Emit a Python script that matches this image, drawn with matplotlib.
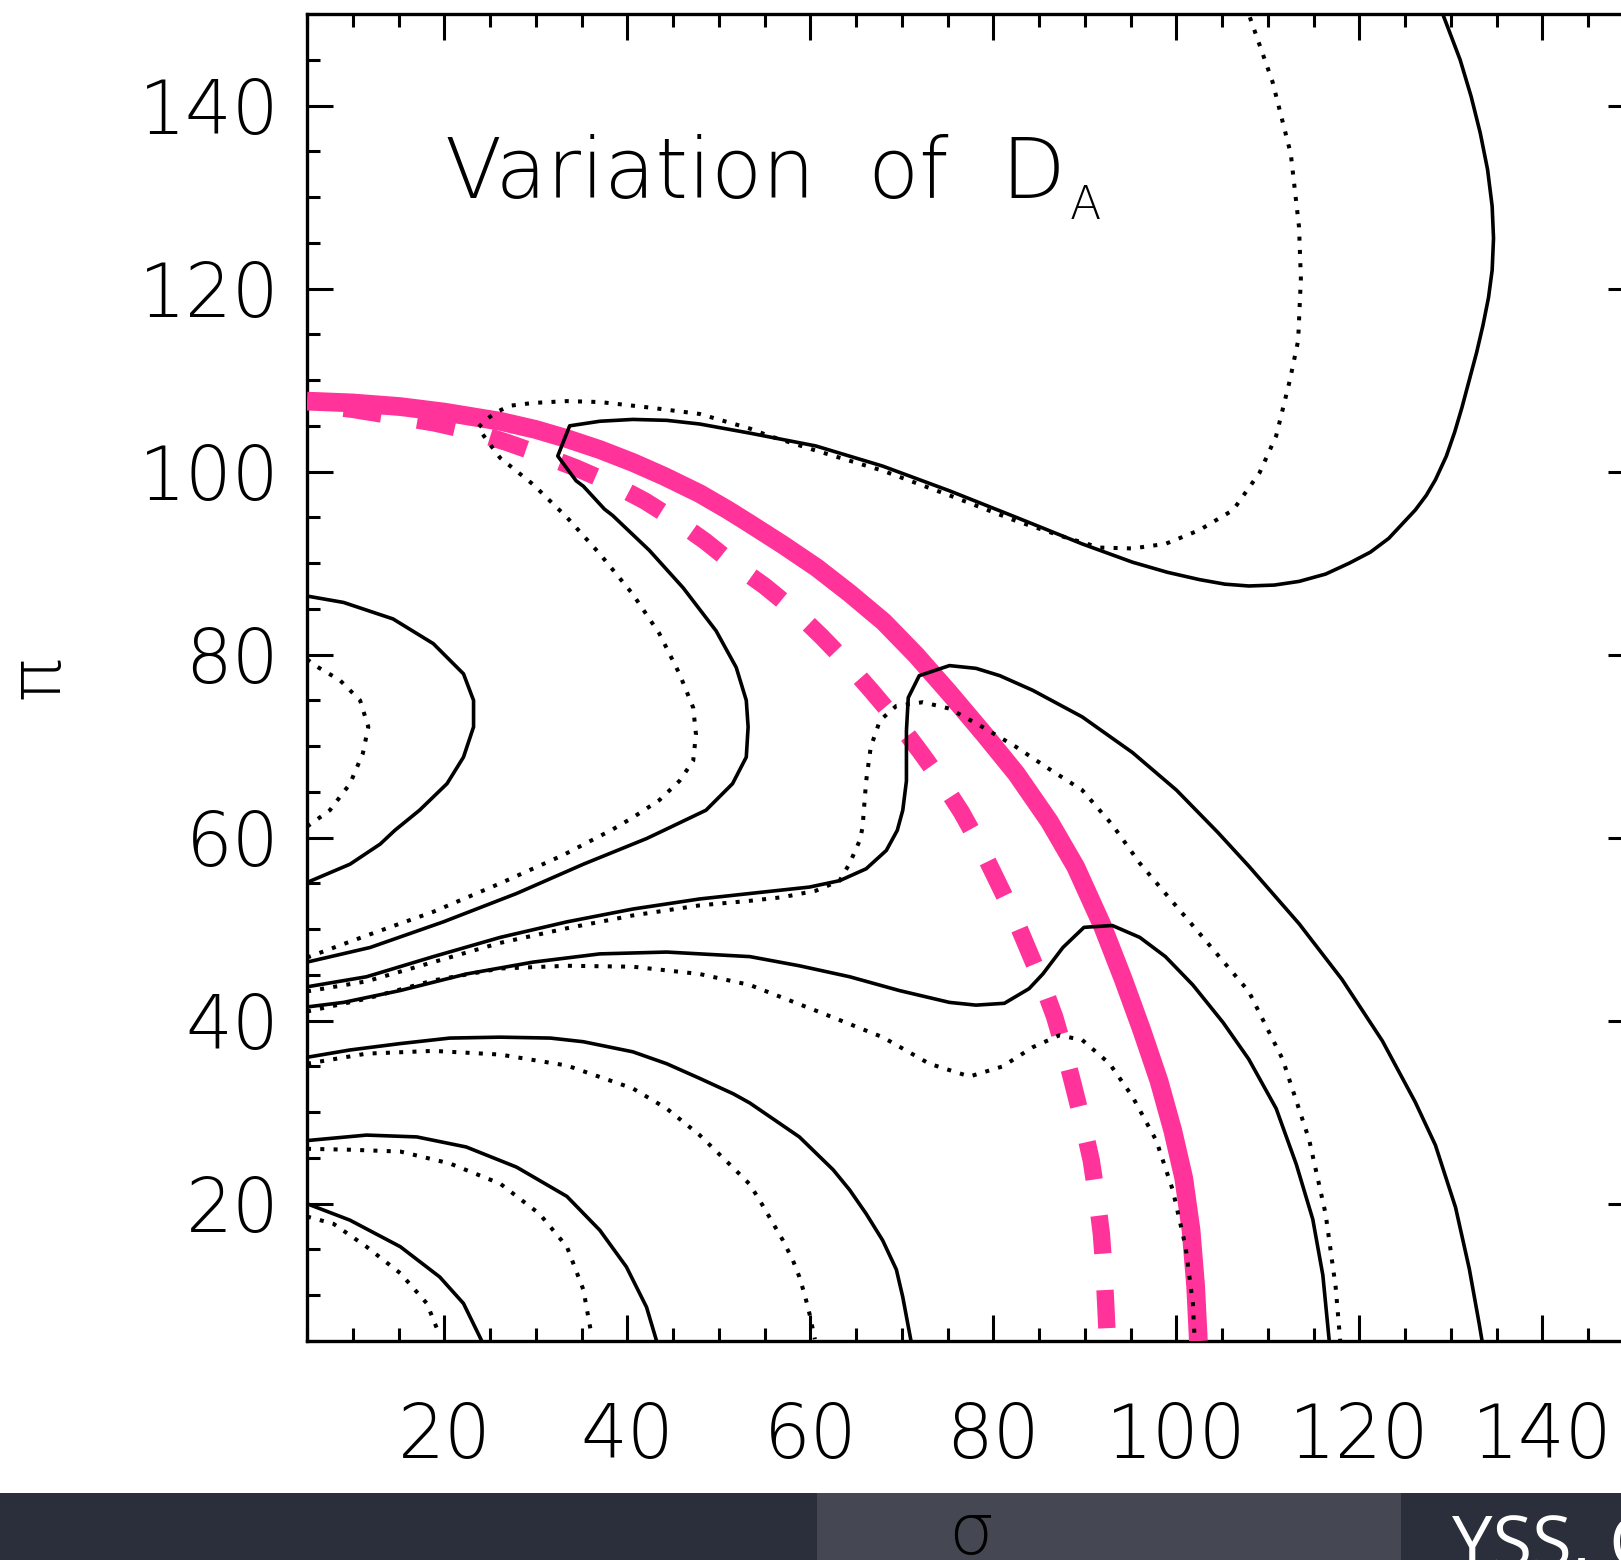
import matplotlib
matplotlib.use("Agg")
import matplotlib.pyplot as plt
from matplotlib import font_manager as fm
from matplotlib.ticker import MultipleLocator
from matplotlib.patches import Rectangle

# ---------------------------------------------------------------------------
# Contour traces of D_A in the (sigma, pi) plane
# ---------------------------------------------------------------------------

# thick pink reference ring (solid) and the shifted ring (dashed)
ring_solid_sigma = [5.0, 10.0, 15.2, 20.0, 26.1, 30.0, 33.4, 37.0, 40.6, 44.0,
                    47.9, 51.0, 53.4, 57.0, 60.7, 64.3, 68.0, 71.6, 75.2, 79.0,
                    82.5, 86.1, 89.0, 91.9, 94.2, 96.2, 98.1, 99.6, 100.8, 101.6,
                    102.1, 102.4]
ring_solid_pi = [107.7, 107.5, 107.1, 106.5, 105.5, 104.6, 103.6, 102.4, 101.0, 99.5,
                 97.6, 95.8, 94.3, 92.0, 89.5, 86.7, 83.6, 79.9, 75.8, 71.3,
                 67.0, 61.8, 56.8, 50.4, 44.5, 39.0, 33.4, 28.0, 22.8, 17.1,
                 11.0, 5.0]

ring_dash_sigma = [5.0, 10.0, 14.9, 19.0, 23.0, 26.8, 30.5, 34.4, 38.3, 41.9,
                   45.4, 48.5, 51.5, 55.0, 58.3, 61.2, 64.0, 66.8, 69.5, 72.0,
                   74.3, 76.5, 78.5, 80.3, 82.1, 83.7, 85.3, 86.7, 87.8, 88.8,
                   89.8, 90.7, 91.3, 91.8, 92.1, 92.3, 92.4]
ring_dash_pi = [107.4, 106.8, 106.0, 105.3, 104.4, 103.2, 101.9, 100.4, 98.7, 96.8,
                94.6, 92.4, 90.0, 87.5, 84.8, 82.0, 79.1, 75.9, 72.7, 69.4,
                66.2, 62.8, 59.2, 55.5, 51.8, 48.0, 44.2, 40.4, 36.6, 32.7,
                28.7, 24.7, 20.7, 16.7, 12.6, 8.5, 6.4]

# solid contours
s1_sigma = [5.0, 11.9, 19.9, 27.9, 35.2, 42.1, 44.0, 48.6, 51.5, 53.0, 53.2, 53.0,
            51.9, 49.7, 46.1, 42.4, 38.4, 37.5, 35.2, 34.4, 32.4, 33.7, 37.0, 40.6,
            44.3, 47.9, 53.4, 60.6, 67.9, 75.2, 82.5, 89.7, 95.2, 99.0, 102.5, 105.3,
            107.9, 110.7, 113.4, 116.3, 118.9, 121.2, 123.2, 126.1, 127.3, 128.3,
            129.5, 130.4, 131.2, 132.0, 132.8, 133.5, 134.1, 134.5, 134.65, 134.5,
            134.0, 133.2, 132.2, 131.0, 129.1]
s1_pi = [46.4, 48.0, 50.8, 53.9, 57.1, 59.9, 60.8, 63.0, 65.9, 68.8, 72.1, 75.0,
         78.6, 82.6, 87.3, 91.4, 95.2, 95.9, 98.4, 99.0, 101.7, 105.0, 105.5, 105.7,
         105.6, 105.2, 104.2, 102.8, 100.6, 97.9, 95.0, 92.1, 90.1, 89.0, 88.2, 87.7,
         87.5, 87.6, 88.0, 88.8, 90.0, 91.2, 92.7, 95.8, 97.4, 99.1,
         101.7, 104.3, 107.0, 110.0, 113.0, 116.0, 119.0, 122.0, 125.5, 129.0,
         133.0, 137.0, 141.0, 145.0, 150.0]

s2_sigma = [5.0, 9.0, 14.4, 18.8, 22.1, 23.2, 23.2, 22.1, 20.3, 17.3, 14.6, 13.0, 9.7, 5.0]
s2_pi = [86.4, 85.7, 83.9, 81.2, 77.9, 75.0, 72.1, 68.8, 65.9, 63.0, 60.8, 59.3, 57.1, 55.1]

s3_sigma = [5.0, 11.5, 18.8, 26.1, 33.4, 40.6, 47.9, 53.4, 59.9, 63.2, 66.1, 68.3,
            69.5, 70.1, 70.5, 70.5, 70.7, 71.9, 75.2, 78.1, 80.7, 84.3, 89.7, 95.2,
            100.0, 104.5, 107.9, 113.4, 118.1, 122.5, 126.1, 128.3, 130.5, 132.0,
            133.1, 133.4]
s3_pi = [43.7, 44.8, 47.0, 49.1, 50.8, 52.2, 53.3, 53.9, 54.6, 55.3, 56.6, 58.6,
         60.8, 63.0, 66.2, 71.7, 75.3, 77.7, 78.8, 78.5, 77.7, 76.1, 73.2, 69.3,
         65.2, 60.6, 56.9, 50.6, 44.5, 37.8, 31.1, 26.4, 19.6, 12.9,
         6.8, 5.0]

s4_sigma = [5.0, 9.0, 15.2, 22.4, 29.7, 37.0, 44.3, 53.4, 58.8, 64.3, 69.7, 75.2,
            78.1, 81.2, 83.9, 85.4, 87.6, 89.9, 93.0, 96.0, 98.8, 101.8, 105.1,
            107.9, 110.9, 113.1, 114.9, 116.0, 116.7]
s4_pi = [41.5, 42.0, 43.3, 45.1, 46.4, 47.3, 47.5, 47.0, 46.0, 44.8, 43.3, 42.0,
         41.7, 41.9, 43.5, 45.1, 48.0, 50.2, 50.4, 49.1, 47.0, 43.9, 39.8,
         35.8, 30.4, 24.3, 18.3, 12.2, 5.0]

s5_sigma = [5.0, 9.7, 15.2, 20.6, 26.1, 31.6, 35.2, 40.6, 44.3, 47.9, 51.6, 53.4,
            58.8, 62.5, 64.3, 66.1, 67.9, 69.4, 70.1, 71.0]
s5_pi = [36.0, 36.8, 37.5, 38.1, 38.2, 38.1, 37.7, 36.6, 35.3, 33.7, 32.0, 31.0,
         27.3, 23.7, 21.5, 18.9, 16.0, 12.8, 9.8, 5.0]

s6_sigma = [5.0, 11.5, 17.0, 22.4, 27.9, 33.4, 37.0, 39.9, 42.1, 43.2]
s6_pi = [26.9, 27.5, 27.3, 26.2, 24.0, 20.8, 17.1, 13.1, 8.7, 5.0]

s7_sigma = [5.0, 9.7, 15.2, 19.5, 22.1, 24.1]
s7_pi = [20.0, 18.2, 15.3, 12.0, 9.1, 5.0]

# dotted contours
d1_sigma = [5.0, 11.5, 18.8, 26.1, 33.0, 38.4, 40.6, 43.5, 45.7, 47.2, 47.5, 47.2,
            45.7, 43.5, 40.6, 37.0, 33.4, 29.7, 26.1, 24.6, 23.7, 24.6, 25.7, 27.2,
            29.7, 33.4, 37.0, 42.4, 47.9, 53.4, 55.5, 60.6, 67.9, 75.2, 82.5, 87.9,
            91.6, 95.2, 98.8, 102.5, 106.2, 109.1, 110.9, 112.4, 113.3, 113.6,
            113.4, 112.5, 110.5, 107.9]
d1_pi = [46.9, 49.3, 51.9, 55.0, 58.1, 60.9, 62.2, 64.1, 66.2, 68.4, 71.3, 74.2,
         77.9, 82.3, 86.6, 91.0, 95.0, 98.6, 101.5, 103.5, 104.8, 105.7, 106.5, 107.2,
         107.5, 107.7, 107.6, 107.0, 106.3, 104.7, 103.9, 102.3, 100.1, 97.4, 94.6, 92.8,
         91.7, 91.6, 92.1, 93.6, 95.8, 99.9, 103.9, 110.0, 114.3, 121.1,
         126.7, 134.7, 142.6, 150.0]

d2_sigma = [5.0, 5.9, 8.6, 10.8, 11.7, 11.1, 9.7, 7.5, 5.0]
d2_pi = [79.5, 78.8, 77.2, 75.0, 72.1, 69.2, 65.9, 63.0, 61.2]

d3_sigma = [5.0, 11.5, 18.8, 26.1, 33.4, 40.6, 47.9, 53.4, 57.0, 60.6, 63.2, 64.3,
            65.4, 65.7, 66.1, 66.6, 67.6, 69.4, 72.3, 75.2, 78.8, 82.5, 86.1, 89.7,
            93.0, 96.0, 98.8, 102.3, 107.9, 111.6, 114.5, 116.3, 117.4, 117.9]
d3_pi = [43.2, 44.3, 46.4, 48.5, 50.1, 51.5, 52.6, 53.1, 53.5, 54.2, 55.3, 57.2,
         59.7, 61.1, 66.2, 69.9, 72.8, 74.4, 74.8, 74.1, 72.1, 69.9, 67.5, 65.2,
         61.4, 57.2, 53.9, 49.8, 43.2, 35.8, 27.0, 18.9, 10.9, 5.0]

d4_sigma = [5.0, 11.5, 18.8, 26.1, 33.4, 40.6, 47.9, 53.4, 60.6, 67.9, 73.0, 77.4,
            81.0, 84.3, 87.2, 89.7, 92.7, 95.2, 97.8, 99.6, 101.0, 101.8, 102.0]
d4_pi = [41.0, 42.4, 44.4, 45.7, 46.0, 45.9, 45.1, 43.9, 41.1, 38.2, 35.3, 33.9,
         35.0, 37.1, 38.4, 37.9, 35.3, 31.7, 26.9, 21.5, 15.3, 9.1, 5.0]

d5_sigma = [5.0, 11.5, 18.8, 26.1, 33.4, 40.6, 44.3, 47.9, 51.6, 53.4, 54.8, 57.0,
            58.1, 58.8, 59.4, 59.9, 60.5]
d5_pi = [35.3, 36.4, 36.7, 36.3, 35.1, 32.6, 30.4, 27.5, 23.9, 22.1, 19.8, 16.0,
         13.8, 12.0, 10.0, 8.0, 5.2]

d6_sigma = [5.0, 9.7, 15.2, 20.6, 26.1, 30.4, 33.4, 35.2, 36.1]
d6_pi = [26.0, 25.9, 25.7, 24.4, 22.2, 18.9, 15.3, 10.6, 5.6]

d7_sigma = [5.0, 7.9, 11.5, 15.2, 18.1, 19.5]
d7_pi = [18.6, 17.8, 15.3, 12.4, 9.1, 5.6]

# axis ticks
major_ticks = [20, 40, 60, 80, 100, 120, 140]

# ---------------------------------------------------------------------------
PINK = "#ff3399"


def _weight(w):
    try:
        return int(w)
    except (TypeError, ValueError):
        return fm.weight_dict.get(str(w).lower(), 400)


# thin vector-style lettering: DejaVu Sans ExtraLight when present, else Lato Light
if any(f.name == "DejaVu Sans" and _weight(f.weight) <= 300
       for f in fm.fontManager.ttflist):
    FONT, WEIGHT = ["DejaVu Sans", "Lato"], 200
    TICK_SIZE, TITLE_SIZE, SUB_SIZE, LABEL_SIZE = 53, 60, 33, 52
else:
    FONT, WEIGHT = ["Lato", "DejaVu Sans"], 300
    TICK_SIZE, TITLE_SIZE, SUB_SIZE, LABEL_SIZE = 54, 62, 34, 56
plt.rcParams["font.family"] = FONT

fig = plt.figure(figsize=(16.21, 15.6), dpi=100)
ax = fig.add_axes([307 / 1621, 219 / 1560, 1327 / 1621, 1327 / 1560])

# dashed ring is stroked from its lower end so a dash closes the curve there
ax.plot(ring_dash_sigma[::-1], ring_dash_pi[::-1], color=PINK, lw=12.5,
        linestyle=(0, (2.2, 2.1)), dash_capstyle="butt",
        dash_joinstyle="round", zorder=2)
ax.plot(ring_solid_sigma, ring_solid_pi, color=PINK, lw=13.5,
        solid_capstyle="butt", solid_joinstyle="round", zorder=3)

solid_curves = [(s1_sigma, s1_pi), (s2_sigma, s2_pi), (s3_sigma, s3_pi),
                (s4_sigma, s4_pi), (s5_sigma, s5_pi), (s6_sigma, s6_pi),
                (s7_sigma, s7_pi)]
dotted_curves = [(d1_sigma, d1_pi), (d2_sigma, d2_pi), (d3_sigma, d3_pi),
                 (d4_sigma, d4_pi), (d5_sigma, d5_pi), (d6_sigma, d6_pi),
                 (d7_sigma, d7_pi)]
for xs, ys in solid_curves:
    ax.plot(xs, ys, color="black", lw=2.6, solid_joinstyle="round", zorder=4)
for xs, ys in dotted_curves:
    ax.plot(xs, ys, color="black", lw=2.9, linestyle=(0, (1, 2.3)),
            dash_capstyle="butt", zorder=4)

ax.set_xlim(5, 150)
ax.set_ylim(5, 150)
ax.set_xticks(major_ticks)
ax.set_yticks(major_ticks)
ax.xaxis.set_minor_locator(MultipleLocator(5))
ax.yaxis.set_minor_locator(MultipleLocator(5))
ax.tick_params(which="both", direction="in", top=True, right=True, width=2.2,
               labelsize=TICK_SIZE)
ax.tick_params(which="major", length=19)
ax.tick_params(which="minor", length=9.5)
ax.tick_params(axis="x", which="major", pad=43)
ax.tick_params(axis="y", which="major", pad=20)
for lab in ax.get_xticklabels() + ax.get_yticklabels():
    lab.set_fontweight(WEIGHT)
for sp in ax.spines.values():
    sp.set_linewidth(2.4)

ax.set_xlabel("σ", fontsize=LABEL_SIZE, fontweight=WEIGHT)
ax.xaxis.set_label_coords(0.5, -0.120)
ax.set_ylabel("π", fontsize=LABEL_SIZE, fontweight=WEIGHT)
ax.yaxis.set_label_coords(-0.176, 0.5)

ax.text(0.104, 0.861, "Variation  of  D", transform=ax.transAxes,
        fontsize=TITLE_SIZE, fontweight=WEIGHT, ha="left", va="baseline")
ax.text(0.575, 0.8455, "A", transform=ax.transAxes,
        fontsize=SUB_SIZE, fontweight=WEIGHT, ha="left", va="baseline")

# footer band of the slide
fig.add_artist(Rectangle((0, 0), 1, 67 / 1560, transform=fig.transFigure,
                         facecolor="#2b2e3b", edgecolor="none", zorder=-2))
fig.add_artist(Rectangle((817 / 1621, 0), 584 / 1621, 67 / 1560,
                         transform=fig.transFigure, facecolor="#454853",
                         edgecolor="none", zorder=-1))
fig.text(1452 / 1621, -0.0045, "YSS, C", color="white", fontsize=52,
         family=["Open Sans", "DejaVu Sans"], ha="left", va="baseline", zorder=5)

fig.savefig("out.png", dpi=100)
